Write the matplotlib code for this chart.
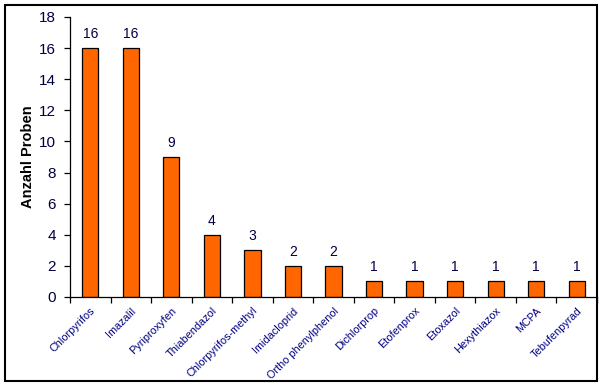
import numpy as np
import matplotlib.pyplot as plt
from matplotlib.patches import Rectangle

plt.rcParams['font.family'] = ['Liberation Sans', 'DejaVu Sans']

wirkstoffe = ['Chlorpyrifos', 'Imazalil', 'Pyriproxyfen', 'Thiabendazol',
              'Chlorpyrifos-methyl', 'Imidacloprid', 'Ortho phenylphenol',
              'Dichlorprop', 'Etofenprox', 'Etoxazol', 'Hexythiazox', 'MCPA',
              'Tebufenpyrad']
anzahl = [16, 16, 9, 4, 3, 2, 2, 1, 1, 1, 1, 1, 1]
y_ticks = [0, 2, 4, 6, 8, 10, 12, 14, 16, 18]

ZAHL = '#000040'
NAME = '#000080'

fig = plt.figure(figsize=(6.05, 3.88), dpi=100)
fig.patches.append(Rectangle((5 / 605, 7 / 388), 592 / 605, 376 / 388,
                             transform=fig.transFigure, fill=False,
                             edgecolor='black', linewidth=1.5))

ax = fig.add_axes([70 / 605, 91 / 388, 527 / 605, 280 / 388])
x = np.arange(len(wirkstoffe))
ax.bar(x, anzahl, width=0.4, color='#FF6600', edgecolor='black',
       linewidth=0.9, zorder=2)

for xi, v in zip(x, anzahl):
    ax.text(xi, v + 0.45, str(v), ha='center', va='bottom', fontsize=10,
            color=ZAHL)

ax.set_xlim(-0.5, len(wirkstoffe) - 0.5)
ax.set_ylim(0, 18)
ax.set_yticks(y_ticks)
ax.set_yticklabels([str(t) for t in y_ticks], fontsize=11, color=ZAHL)
ax.set_xticks(np.arange(len(wirkstoffe) + 1) - 0.5)
ax.set_xticklabels([])
ax.tick_params(axis='both', direction='out', length=4, width=0.9)
ax.tick_params(axis='y', pad=6)

for xi, name in zip(x, wirkstoffe):
    ax.text(xi, -0.55, name, rotation=45, rotation_mode='anchor',
            ha='right', va='top', fontsize=7.8, color=NAME)

ax.spines['top'].set_visible(False)
ax.spines['right'].set_visible(False)
ax.spines['left'].set_linewidth(0.9)
ax.spines['bottom'].set_linewidth(0.9)

ax.set_ylabel('Anzahl Proben', fontsize=10.5, fontweight='bold')
ax.yaxis.set_label_coords(-0.066, 0.5)

fig.savefig('out.png', dpi=100)
